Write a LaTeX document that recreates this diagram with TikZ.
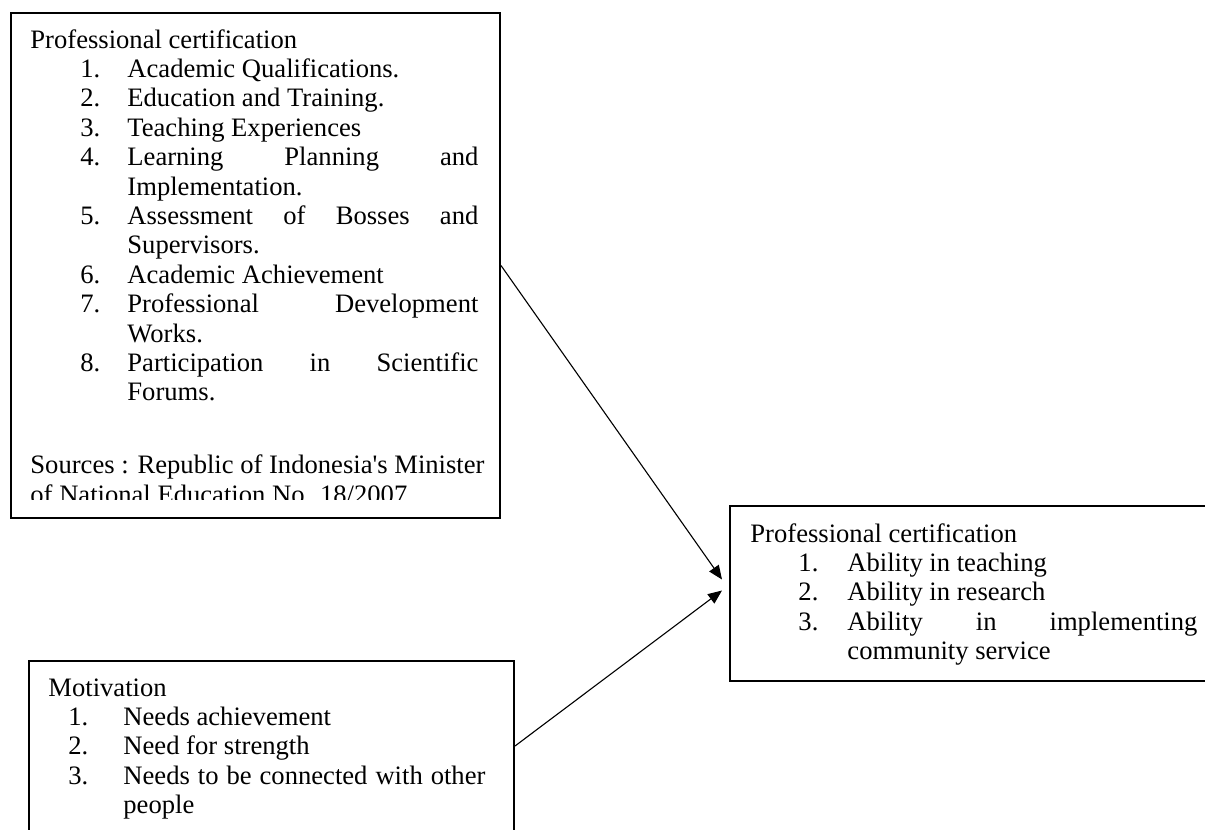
\documentclass[tikz,border=0pt]{standalone}
\usepackage{fontspec}
\setmainfont{Liberation Serif}
\usetikzlibrary{arrows.meta,calc}
\newlength\pxu
\setlength\pxu{0.451pt}
% indent, number width, number, text
\newcommand\itm[4]{\hspace*{#1\pxu}\makebox[#2\pxu][l]{#3}#4}
\newcommand\jst[2]{\makebox[#1\pxu][s]{#2}}
\newcommand\cont[2]{\hspace*{#1\pxu}#2}
\begin{document}
\begin{tikzpicture}[x=0.451pt,y=-0.451pt,
  box/.style={draw, line width=0.9pt, rectangle, inner sep=0pt, anchor=north west},
  txt/.style={anchor=base west, inner sep=0pt, font=\fontsize{12pt}{13.26pt}\selectfont},
  conn/.style={line width=0.5pt, -{Triangle[length=6.3pt,width=5.2pt]}}]
\useasboundingbox (0,0) rectangle (1205,829);
\clip (0,0) rectangle (1205,829);

% boxes
\node[box, minimum width=489\pxu, minimum height=505\pxu] (box1) at (10,12) {};
\node[box, minimum width=495\pxu, minimum height=175\pxu] (box2) at (729,505) {};
\node[box, minimum width=485\pxu, minimum height=170\pxu] (box3) at (28,660) {};

% box 1 text (last line clipped by the box)
\begin{scope}
\clip (10,12) rectangle (499,499);
\node[txt] (t1) at (30,48) {\parbox[t]{600\pxu}{%
Professional certification\\
\itm{50}{47}{1.}{Academic Qualifications.}\\
\itm{50}{47}{2.}{Education and Training.}\\
\itm{50}{47}{3.}{Teaching Experiences}\\
\itm{50}{47}{4.}{\jst{351}{Learning\hfill Planning\hfill and}}\\
\cont{97}{Implementation.}\\
\itm{50}{47}{5.}{\jst{351}{Assessment\hfill of\hfill Bosses\hfill and}}\\
\cont{97}{Supervisors.}\\
\itm{50}{47}{6.}{Academic Achievement}\\
\itm{50}{47}{7.}{\jst{351}{Professional\hfill Development}}\\
\cont{97}{Works.}\\
\itm{50}{47}{8.}{\jst{351}{Participation\hfill in\hfill Scientific}}\\
\cont{97}{Forums.}\\[14\pxu]
\mbox{}\\
Sources : Republic of Indonesia\textquotesingle s Minister\\
of National Education No. 18/2007}};
\end{scope}

% box 2 text
\node[txt] (t2) at (750,542) {\parbox[t]{600\pxu}{%
Professional certification\\
\itm{48}{49}{1.}{Ability in teaching}\\
\itm{48}{49}{2.}{Ability in research}\\
\itm{48}{49}{3.}{\jst{350}{Ability\hfill in\hfill implementing}}\\
\cont{97}{community service}}};

% box 3 text
\node[txt] (t3) at (48,696) {\parbox[t]{600\pxu}{%
Motivation\\
\itm{20}{55}{1.}{Needs achievement}\\
\itm{20}{55}{2.}{Need for strength}\\
\itm{20}{55}{3.}{\jst{362}{Needs\hfill to\hfill be\hfill connected\hfill with\hfill other}}\\
\cont{75}{people}}};

% connectors
\coordinate (e1) at ($(box2.west)+(-7,-14)$);
\coordinate (e2) at ($(box2.west)+(-7,-3)$);
\draw[conn] (box1.east) -- (e1);
\draw[conn] (box3.east) -- (e2);
\end{tikzpicture}
\end{document}
